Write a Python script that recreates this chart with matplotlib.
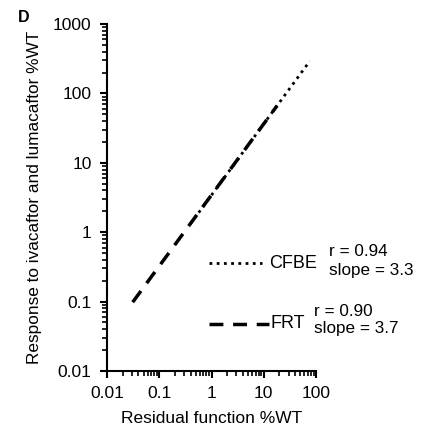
import matplotlib
matplotlib.use('Agg')
import matplotlib.pyplot as plt
import numpy as np

plt.rcParams['font.family'] = ['Liberation Sans', 'DejaVu Sans']

# fitted lines, end points
cfbe_x = [0.39, 76]
cfbe_y = [1.30, 292]
frt_x = [0.031, 18]
frt_y = [0.098, 66.5]

cfbe_r, cfbe_slope = 0.94, 3.3
frt_r, frt_slope = 0.90, 3.7

xticks = [0.01, 0.1, 1, 10, 100]
xtick_labels = ['0.01', '0.1', '1', '10', '100']
yticks = [0.01, 0.1, 1, 10, 100, 1000]
ytick_labels = ['0.01', '0.1', '1', '10', '100', '1000']

dot_style = (0, (1, 1.6))
dash_style = (0, (4, 2.8))

fig = plt.figure(figsize=(4.22, 4.32), dpi=100)
ax = fig.add_axes([107/422, 1-371/432, (316-107)/422, (371-24)/432])

ax.plot(cfbe_x, cfbe_y, color='black', lw=2.0, linestyle=dot_style)
ax.plot(frt_x, frt_y, color='black', lw=2.5, linestyle=dash_style)

ax.set_xscale('log')
ax.set_yscale('log')
ax.set_xlim(0.01, 100)
ax.set_ylim(0.01, 1000)
ax.set_xticks(xticks)
ax.set_xticklabels(xtick_labels)
ax.set_yticks(yticks)
ax.set_yticklabels(ytick_labels)
ax.tick_params(which='major', direction='out', length=5, width=1.5, labelsize=12.5)
ax.tick_params(axis='x', which='major', pad=6)
ax.tick_params(axis='y', which='major', pad=6)
ax.tick_params(which='minor', direction='out', length=3.5, width=1.2)

for s in ['top', 'right']:
    ax.spines[s].set_visible(False)
for s in ['left', 'bottom']:
    ax.spines[s].set_linewidth(1.5)

ax.set_xlabel('Residual function %WT', fontsize=12.5, labelpad=7)
ax.set_ylabel('Response to ivacaftor and lumacaftor %WT', fontsize=12.4, labelpad=8)

# hand-made legend
def fx(px):
    return px / 422
def fy(py):
    return 1 - py / 432

fig.add_artist(plt.Line2D([fx(209), fx(262)], [fy(263), fy(263)], color='black', lw=2.0,
                          linestyle=dot_style))
fig.text(fx(269), fy(263), 'CFBE', fontsize=13, va='center', ha='left')
fig.text(fx(329), fy(251), 'r = %.2f' % cfbe_r, fontsize=12.3, va='center', ha='left')
fig.text(fx(329), fy(271), 'slope = %.1f' % cfbe_slope, fontsize=12.3, va='center', ha='left')

fig.add_artist(plt.Line2D([fx(209), fx(269)], [fy(324), fy(324)], color='black', lw=2.5,
                          linestyle=dash_style))
fig.text(fx(271), fy(324), 'FRT', fontsize=13, va='center', ha='left')
fig.text(fx(314), fy(311), 'r = %.2f' % frt_r, fontsize=12.3, va='center', ha='left')
fig.text(fx(314), fy(329), 'slope = %.1f' % frt_slope, fontsize=12.3, va='center', ha='left')

fig.text(fx(18), fy(17), 'D', fontsize=11.5, fontweight='bold', va='center', ha='left')

fig.savefig('out.png', dpi=100)
